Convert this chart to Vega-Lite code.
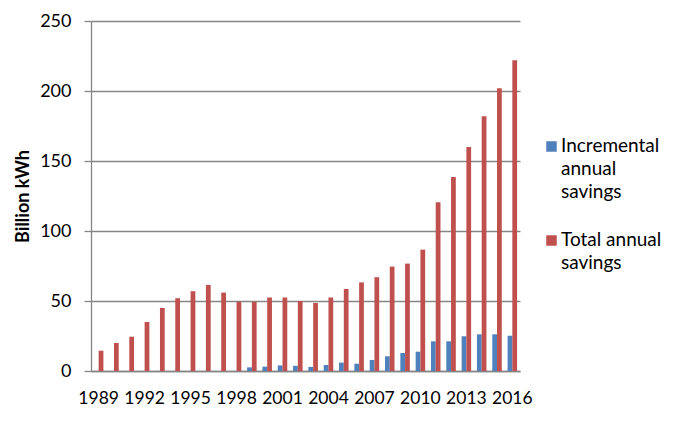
{
  "$schema": "https://vega.github.io/schema/vega-lite/v6.json",
  "autosize": {"type": "none"},
  "width": 429,
  "height": 350,
  "padding": {"left": 91, "top": 21, "right": 160, "bottom": 55},
  "background": "white",
  "config": {
    "font": "Lato",
    "view": {"stroke": null},
    "axis": {"labelFont": "Lato", "titleFont": "Lato", "labelColor": "#000000", "titleColor": "#000000"}
  },
  "data": {
    "values": [
      {"year": 1989, "series": "Incremental annual savings", "value": 0},
      {"year": 1990, "series": "Incremental annual savings", "value": 0},
      {"year": 1991, "series": "Incremental annual savings", "value": 0},
      {"year": 1992, "series": "Incremental annual savings", "value": 0},
      {"year": 1993, "series": "Incremental annual savings", "value": 0},
      {"year": 1994, "series": "Incremental annual savings", "value": 0},
      {"year": 1995, "series": "Incremental annual savings", "value": 0},
      {"year": 1996, "series": "Incremental annual savings", "value": 0},
      {"year": 1997, "series": "Incremental annual savings", "value": 0},
      {"year": 1998, "series": "Incremental annual savings", "value": 0},
      {"year": 1999, "series": "Incremental annual savings", "value": 2.6},
      {"year": 2000, "series": "Incremental annual savings", "value": 3.1},
      {"year": 2001, "series": "Incremental annual savings", "value": 4.0},
      {"year": 2002, "series": "Incremental annual savings", "value": 3.7},
      {"year": 2003, "series": "Incremental annual savings", "value": 2.9},
      {"year": 2004, "series": "Incremental annual savings", "value": 4.3},
      {"year": 2005, "series": "Incremental annual savings", "value": 6.0},
      {"year": 2006, "series": "Incremental annual savings", "value": 5.2},
      {"year": 2007, "series": "Incremental annual savings", "value": 7.9},
      {"year": 2008, "series": "Incremental annual savings", "value": 10.5},
      {"year": 2009, "series": "Incremental annual savings", "value": 12.9},
      {"year": 2010, "series": "Incremental annual savings", "value": 13.8},
      {"year": 2011, "series": "Incremental annual savings", "value": 21.2},
      {"year": 2012, "series": "Incremental annual savings", "value": 21.2},
      {"year": 2013, "series": "Incremental annual savings", "value": 24.8},
      {"year": 2014, "series": "Incremental annual savings", "value": 26.2},
      {"year": 2015, "series": "Incremental annual savings", "value": 26.2},
      {"year": 2016, "series": "Incremental annual savings", "value": 25.2},
      {"year": 1989, "series": "Total annual savings", "value": 14.5},
      {"year": 1990, "series": "Total annual savings", "value": 20},
      {"year": 1991, "series": "Total annual savings", "value": 24.5},
      {"year": 1992, "series": "Total annual savings", "value": 35},
      {"year": 1993, "series": "Total annual savings", "value": 45},
      {"year": 1994, "series": "Total annual savings", "value": 52},
      {"year": 1995, "series": "Total annual savings", "value": 57},
      {"year": 1996, "series": "Total annual savings", "value": 61.5},
      {"year": 1997, "series": "Total annual savings", "value": 56},
      {"year": 1998, "series": "Total annual savings", "value": 49.5},
      {"year": 1999, "series": "Total annual savings", "value": 49.5},
      {"year": 2000, "series": "Total annual savings", "value": 52.5},
      {"year": 2001, "series": "Total annual savings", "value": 52.5},
      {"year": 2002, "series": "Total annual savings", "value": 50},
      {"year": 2003, "series": "Total annual savings", "value": 48.6},
      {"year": 2004, "series": "Total annual savings", "value": 52.5},
      {"year": 2005, "series": "Total annual savings", "value": 58.6},
      {"year": 2006, "series": "Total annual savings", "value": 63.3},
      {"year": 2007, "series": "Total annual savings", "value": 67},
      {"year": 2008, "series": "Total annual savings", "value": 74.6},
      {"year": 2009, "series": "Total annual savings", "value": 76.7},
      {"year": 2010, "series": "Total annual savings", "value": 86.7},
      {"year": 2011, "series": "Total annual savings", "value": 120.5},
      {"year": 2012, "series": "Total annual savings", "value": 138.5},
      {"year": 2013, "series": "Total annual savings", "value": 160},
      {"year": 2014, "series": "Total annual savings", "value": 182},
      {"year": 2015, "series": "Total annual savings", "value": 202},
      {"year": 2016, "series": "Total annual savings", "value": 222}
    ]
  },
  "mark": {"type": "bar"},
  "encoding": {
    "x": {
      "field": "year",
      "type": "ordinal",
      "scale": {"paddingInner": 0.38, "paddingOuter": 0.19},
      "axis": {
        "title": null,
        "values": [1989, 1992, 1995, 1998, 2001, 2004, 2007, 2010, 2013, 2016],
        "labelAngle": 0,
        "labelFontSize": 17.5,
        "labelPadding": 18,
        "ticks": false,
        "domainColor": "#868686",
        "domainWidth": 1.3
      }
    },
    "xOffset": {"field": "series", "type": "nominal"},
    "y": {
      "field": "value",
      "type": "quantitative",
      "scale": {"domain": [0, 250]},
      "axis": {
        "title": "Billion kWh",
        "titleFontSize": 18,
        "titleFontWeight": "bold",
        "titlePadding": 7,
        "values": [0, 50, 100, 150, 200, 250],
        "labelFontSize": 18,
        "labelPadding": 13,
        "tickSize": 7,
        "tickColor": "#868686",
        "tickWidth": 1.3,
        "domainColor": "#868686",
        "domainWidth": 1.3,
        "gridColor": "#868686",
        "gridWidth": 1.3
      }
    },
    "color": {
      "field": "series",
      "type": "nominal",
      "scale": {"domain": ["Incremental annual savings", "Total annual savings"], "range": ["#4F81BD", "#C0504D"]},
      "legend": {
        "title": null,
        "orient": "none",
        "legendX": 451,
        "legendY": 116,
        "symbolType": "square",
        "symbolSize": 110,
        "symbolStrokeWidth": 0,
        "labelFontSize": 19,
        "labelFont": "Lato",
        "labelColor": "#000000",
        "labelLimit": 200,
        "labelBaseline": "top",
        "labelOffset": 0,
        "rowPadding": 28,
        "labelExpr": "datum.label == 'Incremental annual savings' ? ['Incremental', 'annual', 'savings'] : ['Total annual', 'savings']",
        "encode": {
          "labels": {"update": {"dy": {"value": -10}, "lineHeight": {"value": 23}}}
        }
      }
    }
  }
}
